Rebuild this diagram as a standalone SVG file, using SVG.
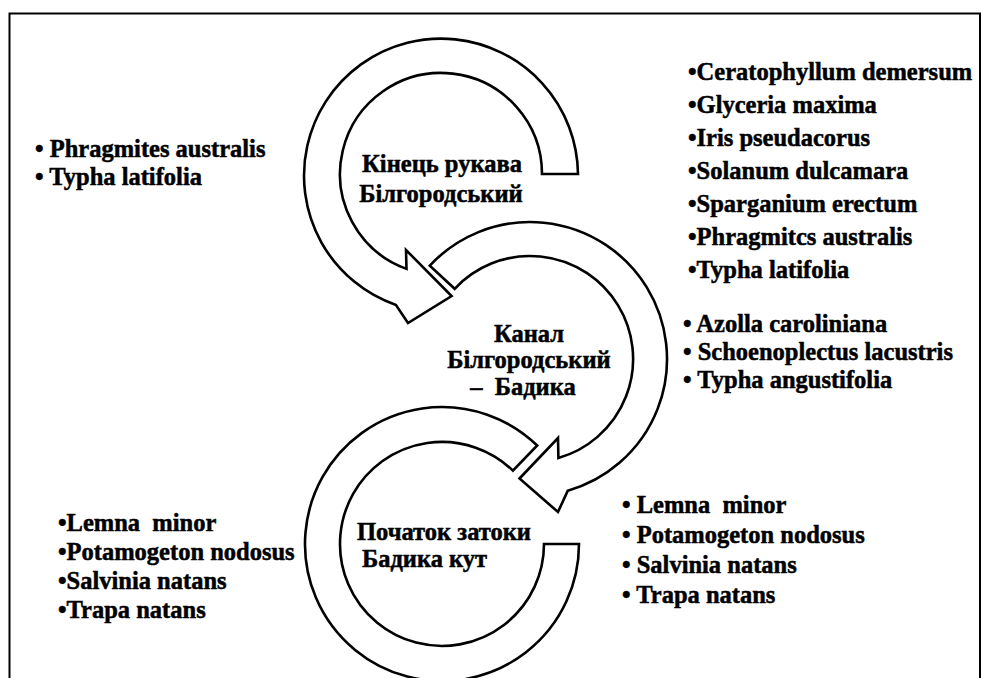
<svg xmlns="http://www.w3.org/2000/svg" width="982" height="678" viewBox="0 0 982 678">
<style>
.ring{fill:#fff;stroke:#000;stroke-width:2.6;stroke-linejoin:miter}
.frame{fill:none;stroke:#000;stroke-width:2}
.t{font-family:'Liberation Serif','DejaVu Serif','Times New Roman',serif;font-weight:700;font-size:24.5px;fill:#000;stroke:#000;stroke-width:0.5}
.c{text-anchor:middle}
</style>
<rect width="982" height="678" fill="#fff"/>
<path class="frame" d="M9.5,680 V13.5 H980 V680"/>
<g id="node-kinets">
<path class="ring" d="M578,174 A137,137 0 1 0 396,305 L408,323 L451.6,296 L406,250 L406.5,268.9 A101,101 0 1 1 542,174 Z"/>
<text class="t c" x="442" y="172">Кінець рукава</text>
<text class="t c" x="441" y="202">Білгородський</text>
</g>
<g id="node-kanal">
<path class="ring" d="M429.8,265.6 A137,137 0 1 1 567.8,490.7 L558,512 L519.5,478.5 L558,438 L558.4,458 A103,103 0 1 0 454.7,288.8 Z"/>
<text class="t c" x="529" y="342">Канал</text>
<text class="t c" x="529" y="368">Білгородський</text>
<text class="t c" x="523" y="395">–&#160; Бадика</text>
</g>
<g id="node-pochatok">
<path class="ring" d="M537.2,445.5 A137,137 0 1 0 579,544 L544,544 A102,102 0 1 1 512.9,470.6 Z"/>
<text class="t" x="357" y="540">Початок затоки</text>
<text class="t" x="362" y="567">Бадика кут</text>
</g>
<g id="list-top-left">
<text class="t" x="35" y="157">• Phragmites australis</text>
<text class="t" x="35" y="185">• Typha latifolia</text>
</g>
<g id="list-top-right">
<text class="t" x="688" y="80">•Ceratophyllum demersum</text>
<text class="t" x="688" y="113">•Glyceria maxima</text>
<text class="t" x="688" y="146">•Iris pseudacorus</text>
<text class="t" x="688" y="179">•Solanum dulcamara</text>
<text class="t" x="688" y="212">•Sparganium erectum</text>
<text class="t" x="688" y="245">•Phragmitcs australis</text>
<text class="t" x="688" y="278">•Typha latifolia</text>
</g>
<g id="list-mid-right">
<text class="t" x="683" y="332">• Azolla caroliniana</text>
<text class="t" x="683" y="360">• Schoenoplectus lacustris</text>
<text class="t" x="683" y="388">• Typha angustifolia</text>
</g>
<g id="list-bottom-right">
<text class="t" x="622" y="513">• Lemna&#160; minor</text>
<text class="t" x="622" y="543">• Potamogeton nodosus</text>
<text class="t" x="622" y="573">• Salvinia natans</text>
<text class="t" x="622" y="603">• Trapa natans</text>
</g>
<g id="list-bottom-left">
<text class="t" x="58" y="531">•Lemna&#160; minor</text>
<text class="t" x="58" y="560">•Potamogeton nodosus</text>
<text class="t" x="58" y="589">•Salvinia natans</text>
<text class="t" x="58" y="618">•Trapa natans</text>
</g>
</svg>
